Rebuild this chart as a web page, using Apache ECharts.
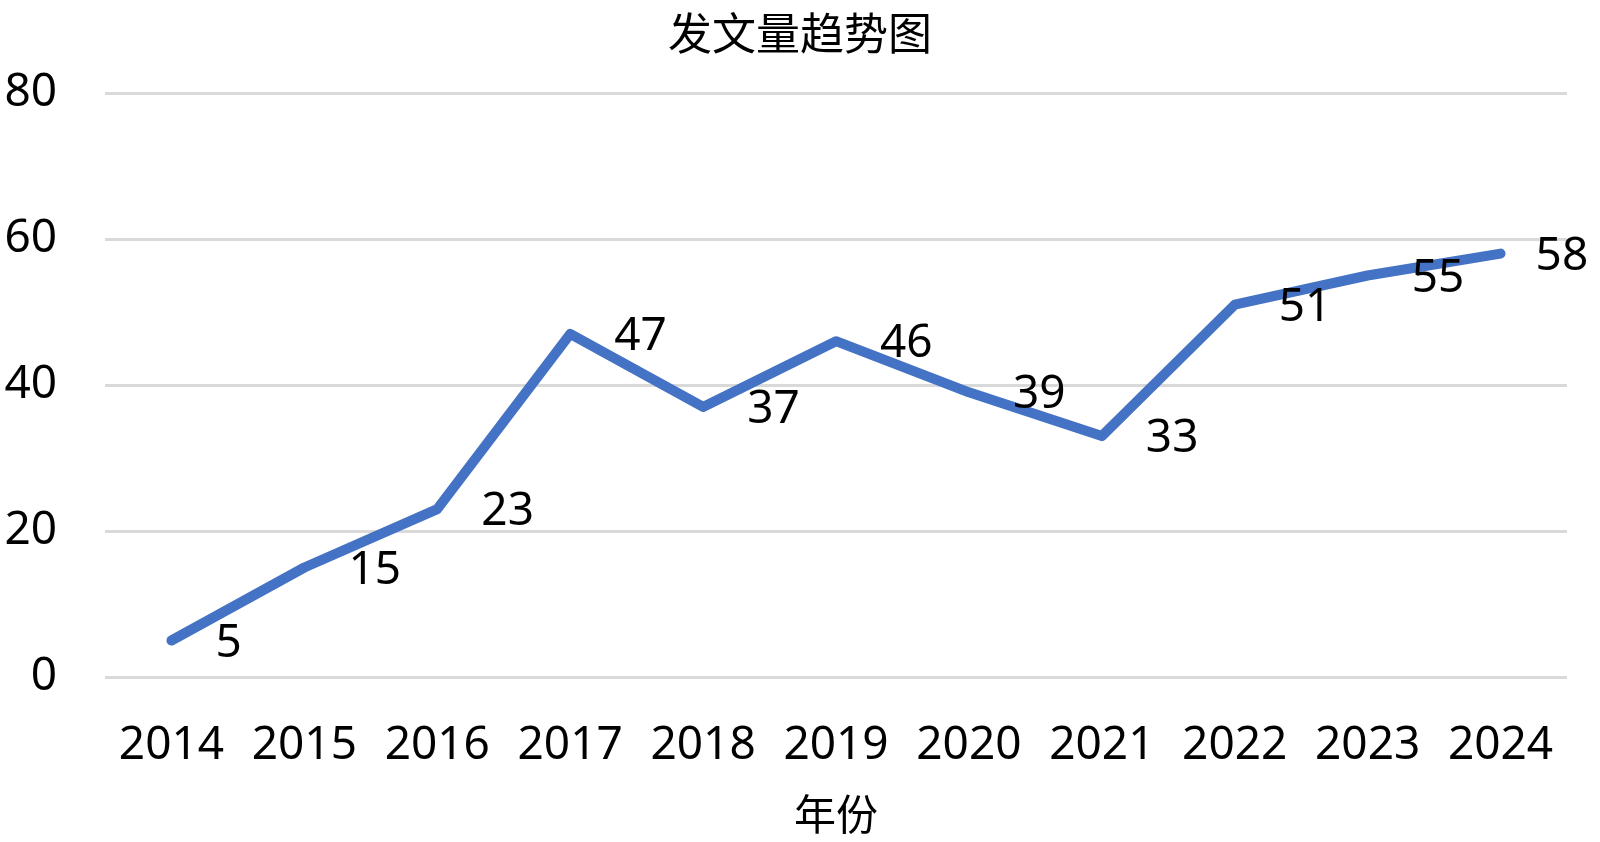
<!DOCTYPE html>
<html>
<head>
<meta charset="utf-8">
<script src="https://cdn.jsdelivr.net/npm/echarts@6/dist/echarts.min.js"></script>
<style>
html,body{margin:0;padding:0;background:#fff;}
#chart{width:1600px;height:842px;}
</style>
</head>
<body>
<div id="chart"></div>
<script>
const years = ['2014','2015','2016','2017','2018','2019','2020','2021','2022','2023','2024'];
const counts = [5, 15, 23, 47, 37, 46, 39, 33, 51, 55, 58];
const yTicks = { min: 0, max: 80, interval: 20 };
const titleText = '发文量趋势图';
const xName = '年份';

const chart = echarts.init(document.getElementById('chart'));
const font = '"Noto Sans", "Noto Sans CJK SC", sans-serif';
const seriesData = counts.map((v, i) => i === counts.length - 1
  ? { value: v, label: { offset: [-9, 3] } }
  : v);
chart.setOption({
  backgroundColor: '#ffffff',
  animation: false,
  title: {
    text: titleText,
    left: 'center',
    top: 6,
    textStyle: { fontFamily: '"Noto Sans CJK SC", serif', fontSize: 44, fontWeight: 'normal', color: '#000' }
  },
  grid: { left: 105, right: 33, top: 93, bottom: 165, containLabel: false, outerBoundsMode: 'none' },
  xAxis: {
    type: 'category',
    data: years,
    boundaryGap: true,
    name: xName,
    nameLocation: 'middle',
    nameGap: 116,
    nameTextStyle: { fontFamily: '"Noto Sans CJK SC", serif', fontSize: 42, color: '#000' },
    axisLine: { show: false },
    axisTick: { show: false },
    axisLabel: { fontFamily: font, fontSize: 46, color: '#000', margin: 46, interval: 0 }
  },
  yAxis: {
    type: 'value',
    min: yTicks.min, max: yTicks.max, interval: yTicks.interval,
    axisLine: { show: false },
    axisTick: { show: false },
    axisLabel: { fontFamily: font, fontSize: 46, color: '#000', margin: 48 },
    splitLine: { lineStyle: { color: '#d9d9d9', width: 3 } }
  },
  series: [{
    type: 'line',
    data: seriesData,
    symbol: 'circle',
    symbolSize: 0.1,
    lineStyle: { color: '#4472C4', width: 10, cap: 'round', join: 'round' },
    itemStyle: { color: '#4472C4' },
    label: {
      show: true,
      position: 'right',
      distance: 44,
      offset: [0, 3],
      fontFamily: font,
      fontSize: 46,
      color: '#000'
    }
  }]
});
</script>
</body>
</html>
